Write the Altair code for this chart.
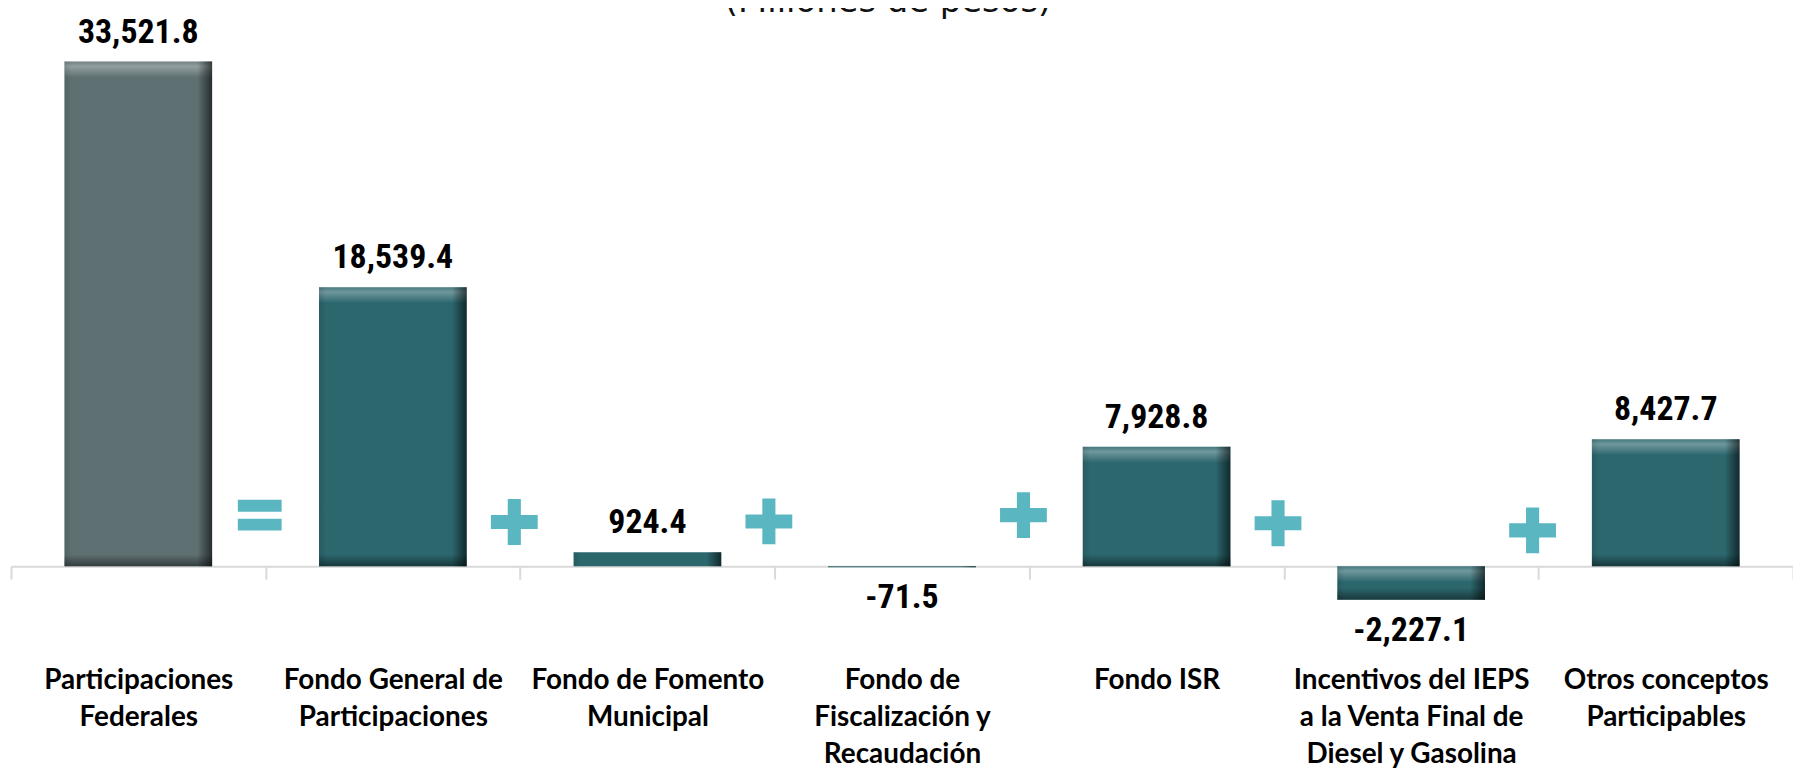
import altair as alt
import pandas as pd

# ---- data ----
title_text = ["(Millones de pesos)"]
categories = [
    "Participaciones|Federales",
    "Fondo General de|Participaciones",
    "Fondo de Fomento|Municipal",
    "Fondo de|Fiscalización y|Recaudación",
    "Fondo ISR",
    "Incentivos del IEPS|a la Venta Final de|Diesel y Gasolina",
    "Otros conceptos|Participables",
]
values = [33521.8, 18539.4, 924.4, -71.5, 7928.8, -2227.1, 8427.7]
kinds = ["total", "comp", "comp", "comp", "comp", "comp", "comp"]

op_left = categories[:6]
op_symbols = ["=", "+", "+", "+", "+", "+"]
op_level = [3393, 2937, 2976, 3393, 2857, 2380]

bars = pd.DataFrame({"cat": categories, "v": values, "kind": kinds})
ops = pd.DataFrame({"cat": op_left, "sym": op_symbols, "lvl": op_level})
ttl = pd.DataFrame({"t": title_text})

# ---- style ----
GRAY = "#5F7072"
TEAL = "#2C676E"
OPC = "#5AB7C1"
PLUS = "M-1,-0.3H-0.28V-0.98H0.28V-0.3H1V0.3H0.28V0.98H-0.28V0.3H-1Z"
EQUAL = "M-1,-0.705H1V-0.16H-1Z M-1,0.16H1V0.705H-1Z"
BW = alt.RelativeBandSize(0.58)

YMAX = 36971

x = alt.X(
    "cat:N",
    sort=None,
    scale=alt.Scale(paddingInner=0, paddingOuter=0),
    axis=alt.Axis(
        title=None,
        labelExpr="split(datum.label, '|')",
        labelFont="Lato",
        labelFontWeight="bold",
        labelFontSize=28,
        labelColor="#000000",
        labelLineHeight=37,
        labelPadding=110,
        labelBaseline="alphabetic",
        labelAngle=0,
        labelLimit=400,
        labelOverlap=False,
        domainColor="#D9D9D9",
        domainWidth=2,
        tickColor="#D9D9D9",
        tickWidth=2,
        tickSize=13,
        tickBand="extent",
        grid=False,
    ),
)
yscale = alt.Scale(domain=[0, YMAX], nice=False, zero=False)

base = alt.Chart(bars).transform_calculate(
    top="max(datum.v, 0)",
    bot="min(datum.v, 0)",
    lab="replace(format(datum.v, ',.1f'), '\u2212', '-')",
)

bar_main = base.mark_bar(width=BW).encode(
    x=x,
    y=alt.Y("top:Q", scale=yscale, axis=None),
    y2="bot:Q",
    color=alt.Color("kind:N", scale=alt.Scale(domain=["total", "comp"], range=[GRAY, TEAL]), legend=None),
)

big = base.transform_filter("abs(datum.v) > 1500")

top_strip = big.mark_bar(
    width=BW,
    y2Offset=16,
    color=alt.Gradient(
        gradient="linear",
        stops=[
            alt.GradientStop(offset=0, color="rgba(255,255,255,0.12)"),
            alt.GradientStop(offset=0.3, color="rgba(255,255,255,0.32)"),
            alt.GradientStop(offset=1, color="rgba(255,255,255,0)"),
        ],
        x1=0, x2=0, y1=0, y2=1,
    ),
).encode(x=x, y=alt.Y("top:Q", scale=yscale, axis=None), y2="top:Q")

bot_strip = big.mark_bar(
    width=BW,
    yOffset=-12,
    color=alt.Gradient(
        gradient="linear",
        stops=[
            alt.GradientStop(offset=0, color="rgba(0,0,0,0)"),
            alt.GradientStop(offset=1, color="rgba(0,0,0,0.45)"),
        ],
        x1=0, x2=0, y1=0, y2=1,
    ),
).encode(x=x, y=alt.Y("bot:Q", scale=yscale, axis=None), y2="bot:Q")

side = base.mark_bar(
    width=BW,
    color=alt.Gradient(
        gradient="linear",
        stops=[
            alt.GradientStop(offset=0, color="rgba(0,0,0,0.12)"),
            alt.GradientStop(offset=0.05, color="rgba(0,0,0,0)"),
            alt.GradientStop(offset=0.9, color="rgba(0,0,0,0)"),
            alt.GradientStop(offset=1, color="rgba(0,0,0,0.6)"),
        ],
        x1=0, x2=1, y1=0, y2=0,
    ),
).encode(x=x, y=alt.Y("top:Q", scale=yscale, axis=None), y2="bot:Q")

label_font = "Liberation Sans Narrow, Arial Narrow, Roboto Condensed, sans-serif"
pos_labels = base.transform_filter("datum.v >= 0").mark_text(
    font=label_font, fontWeight="bold", fontSize=34, color="#000000",
    baseline="alphabetic", dy=-19,
).encode(x=x, y=alt.Y("top:Q", scale=yscale, axis=None), text="lab:N")

neg_labels = base.transform_filter("datum.v < 0").mark_text(
    font=label_font, fontWeight="bold", fontSize=34, color="#000000",
    baseline="alphabetic", dy=41,
).encode(x=x, y=alt.Y("bot:Q", scale=yscale, axis=None), text="lab:N")

opbase = alt.Chart(ops)
eq = opbase.transform_filter("datum.sym == '='").mark_point(
    shape=EQUAL, filled=True, size=1936, color=OPC, opacity=1, strokeWidth=0, xOffset=122,
).encode(x=x, y=alt.Y("lvl:Q", scale=yscale, axis=None))
plus = opbase.transform_filter("datum.sym == '+'").mark_point(
    shape=PLUS, filled=True, size=2209, color=OPC, opacity=1, strokeWidth=0, xOffset=122,
).encode(x=x, y=alt.Y("lvl:Q", scale=yscale, axis=None))

title_mark = alt.Chart(ttl).mark_text(
    font="DejaVu Sans", fontSize=34, color="#111111", baseline="alphabetic", align="center",
).encode(x=alt.value(881), y=alt.value(2), text="t:N")

chart = alt.layer(
    bar_main, top_strip, bot_strip, side, pos_labels, neg_labels, eq, plus, title_mark
).properties(
    width=1790,
    height=559,
    autosize=alt.AutoSizeParams(type="none"),
    padding={"left": 3, "top": 0, "right": 0, "bottom": 203},
).configure(background="white").configure_view(stroke=None)

chart.save("out.html", embed_options={"renderer": "svg", "actions": False})
